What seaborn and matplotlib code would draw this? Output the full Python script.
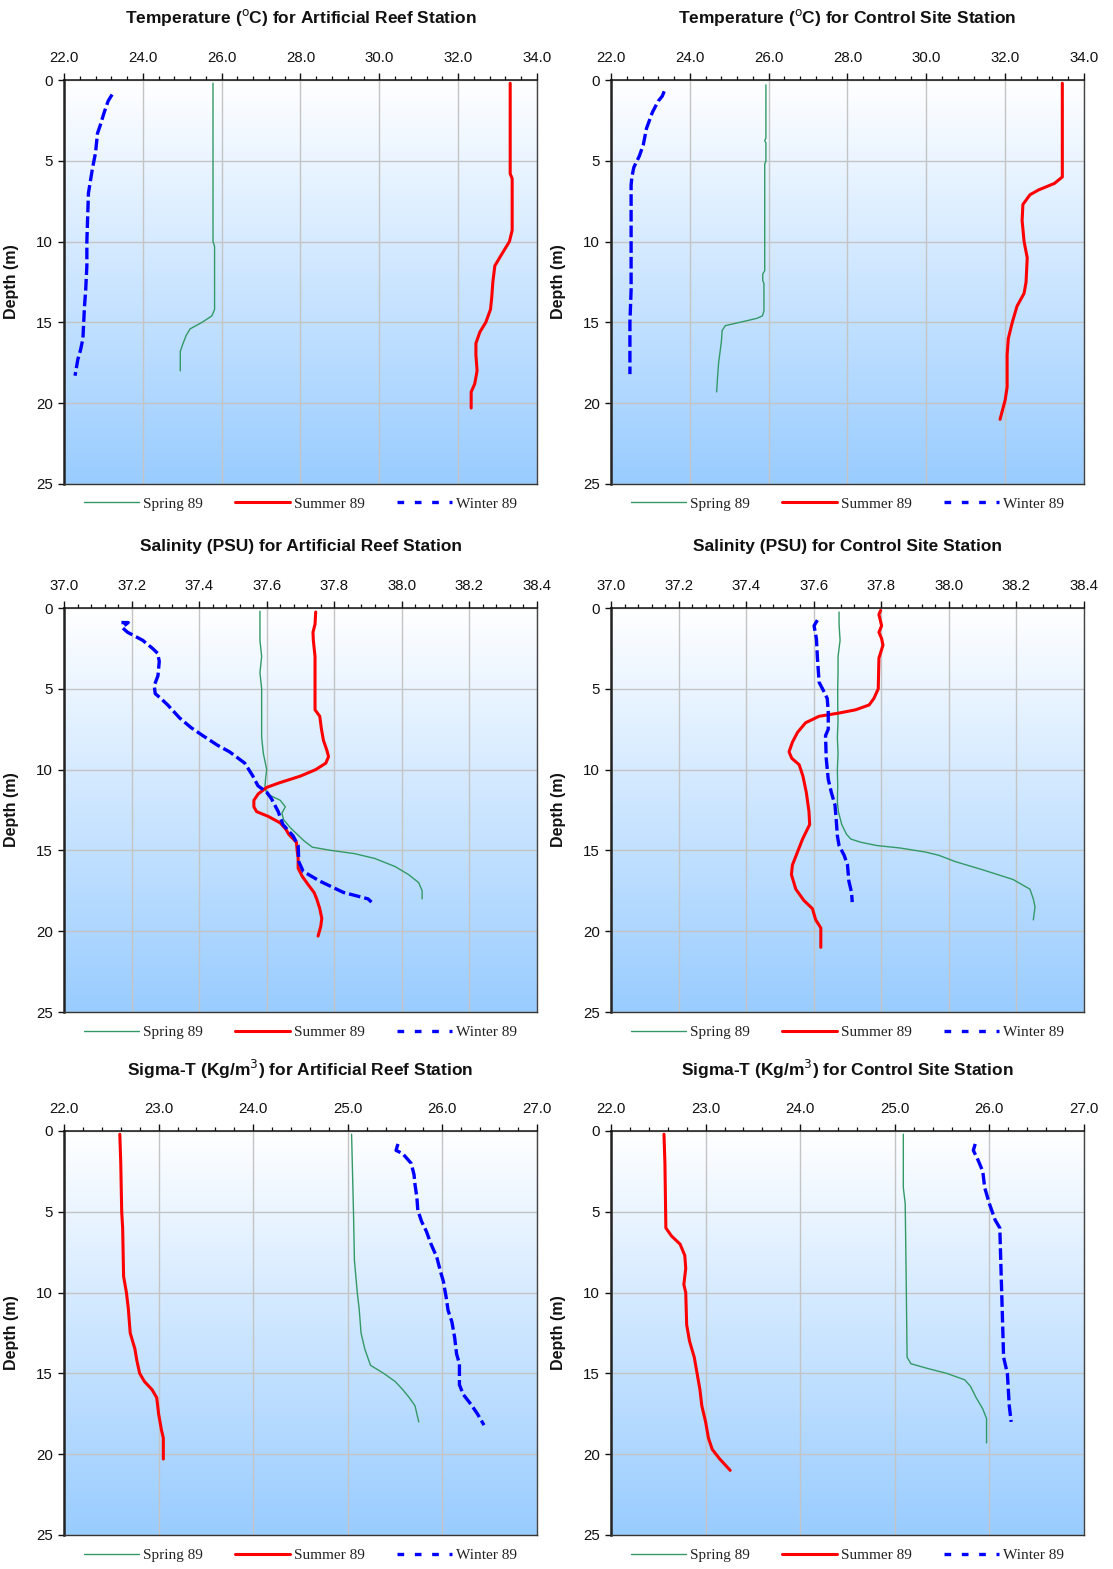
import numpy as np
import pandas as pd
import matplotlib
matplotlib.use("Agg")
import matplotlib.pyplot as plt
import seaborn as sns
from matplotlib.lines import Line2D
from matplotlib.colors import LinearSegmentedColormap
from matplotlib.ticker import MultipleLocator, AutoMinorLocator, FormatStrFormatter

sns.set_theme(style="ticks")
plt.rcParams['font.family'] = ['Liberation Sans', 'DejaVu Sans']

# ---------------- DATA ----------------
# Temperature, Artificial Reef
temp_ar_spring_d = [0.2, 2.5, 10.0, 10.3, 14.2, 14.6, 15.0, 15.4, 15.8, 16.3, 16.8, 18.0]
temp_ar_spring = [25.78, 25.78, 25.78, 25.82, 25.82, 25.75, 25.5, 25.2, 25.1, 25.02, 24.95, 24.95]
temp_ar_summer_d = [0.2, 3.0, 5.8, 6.1, 9.3, 10.0, 10.8, 11.5, 12.5, 13.5, 14.2, 15.0, 15.6, 16.3, 17.0, 18.0, 18.8, 19.3, 20.3]
temp_ar_summer = [33.32, 33.32, 33.32, 33.37, 33.37, 33.3, 33.1, 32.93, 32.88, 32.85, 32.82, 32.7, 32.55, 32.45, 32.45, 32.48, 32.42, 32.33, 32.33]
temp_ar_winter_d = [0.9, 1.3, 2.0, 2.8, 3.3, 4.5, 5.5, 7.0, 8.5, 10.0, 11.5, 13.0, 14.0, 15.0, 16.0, 16.7, 17.3, 18.3]
temp_ar_winter = [23.22, 23.12, 23.02, 22.92, 22.85, 22.8, 22.72, 22.62, 22.6, 22.58, 22.58, 22.55, 22.52, 22.5, 22.48, 22.42, 22.35, 22.28]

# Temperature, Control Site
temp_cs_spring_d = [0.3, 3.6, 3.75, 3.9, 5.0, 5.2, 11.8, 12.0, 12.4, 12.6, 14.3, 14.6, 14.75, 14.9, 15.2, 15.5, 16.2, 17.5, 18.5, 19.3]
temp_cs_spring = [25.93, 25.93, 25.9, 25.93, 25.93, 25.9, 25.9, 25.85, 25.85, 25.88, 25.88, 25.84, 25.7, 25.44, 24.9, 24.82, 24.8, 24.73, 24.7, 24.68]
temp_cs_summer_d = [0.2, 3.0, 6.0, 6.4, 6.8, 7.1, 7.7, 8.7, 10.0, 11.0, 12.5, 13.2, 14.0, 15.0, 16.0, 17.0, 18.0, 19.0, 19.8, 21.0]
temp_cs_summer = [33.45, 33.45, 33.45, 33.25, 32.85, 32.63, 32.45, 32.43, 32.48, 32.56, 32.53, 32.48, 32.3, 32.18, 32.08, 32.05, 32.05, 32.05, 32.0, 31.87]
temp_cs_winter_d = [0.7, 1.0, 1.3, 2.0, 3.0, 4.0, 4.7, 5.4, 6.0, 6.5, 10.0, 13.0, 15.0, 18.2]
temp_cs_winter = [23.35, 23.3, 23.2, 23.05, 22.9, 22.82, 22.72, 22.58, 22.53, 22.51, 22.51, 22.51, 22.48, 22.48]

# Salinity, Artificial Reef
sal_ar_spring_d = [0.2, 1.0, 2.0, 3.0, 4.0, 5.0, 6.0, 7.0, 8.0, 9.0, 9.5, 10.0, 10.5, 11.0, 11.5, 11.9, 12.3, 12.7, 13.1, 13.6, 14.0, 14.4, 14.8, 15.0, 15.2, 15.5, 16.0, 16.5, 17.0, 17.5, 18.0]
sal_ar_spring = [37.58, 37.58, 37.58, 37.585, 37.58, 37.585, 37.585, 37.585, 37.585, 37.59, 37.595, 37.6, 37.597, 37.595, 37.6, 37.64, 37.655, 37.645, 37.65, 37.67, 37.69, 37.71, 37.735, 37.79, 37.86, 37.92, 37.98, 38.02, 38.05, 38.06, 38.06]
sal_ar_summer_d = [0.25, 1.0, 1.5, 2.0, 3.0, 4.5, 6.3, 6.7, 7.5, 8.2, 8.8, 9.2, 9.6, 10.0, 10.4, 10.8, 11.1, 11.5, 11.9, 12.3, 12.6, 12.9, 13.3, 13.7, 14.0, 14.5, 15.0, 15.5, 16.1, 16.6, 17.1, 17.6, 18.0, 18.6, 19.2, 19.7, 20.3]
sal_ar_summer = [37.745, 37.743, 37.737, 37.738, 37.743, 37.743, 37.743, 37.757, 37.762, 37.768, 37.778, 37.783, 37.775, 37.745, 37.70, 37.64, 37.6, 37.575, 37.562, 37.562, 37.57, 37.605, 37.64, 37.657, 37.665, 37.688, 37.69, 37.693, 37.693, 37.705, 37.722, 37.74, 37.748, 37.757, 37.763, 37.76, 37.752]
sal_ar_winter_d = [0.9, 0.9, 1.2, 1.5, 2.0, 2.5, 2.8, 3.3, 4.2, 4.8, 5.3, 5.6, 6.0, 6.8, 7.4, 7.9, 8.5, 8.9, 9.6, 10.4, 11.0, 11.4, 11.8, 12.6, 13.4, 14.1, 14.7, 15.7, 16.3, 16.9, 17.6, 18.0, 18.2]
sal_ar_winter = [37.17, 37.19, 37.172, 37.188, 37.233, 37.262, 37.277, 37.282, 37.278, 37.267, 37.27, 37.287, 37.307, 37.342, 37.376, 37.411, 37.455, 37.49, 37.535, 37.559, 37.574, 37.6, 37.614, 37.634, 37.648, 37.678, 37.693, 37.695, 37.708, 37.757, 37.827, 37.9, 37.91]

# Salinity, Control Site
sal_cs_spring_d = [0.25, 1, 2, 3, 4, 5, 6, 7, 8, 9, 10, 11, 12, 12.6, 13.4, 14.0, 14.3, 14.5, 14.7, 14.85, 15.1, 15.3, 15.7, 16.2, 16.8, 17.4, 18.0, 18.5, 19.3]
sal_cs_spring = [37.675, 37.675, 37.678, 37.672, 37.672, 37.671, 37.671, 37.672, 37.67, 37.672, 37.67, 37.671, 37.67, 37.673, 37.683, 37.697, 37.71, 37.74, 37.787, 37.855, 37.93, 37.97, 38.02, 38.1, 38.19, 38.24, 38.25, 38.255, 38.25]
sal_cs_summer_d = [0.15, 0.4, 1.1, 1.5, 1.9, 2.3, 3.1, 5.0, 5.6, 6.0, 6.3, 6.5, 6.7, 7.1, 7.7, 8.3, 8.9, 9.3, 9.7, 10.4, 11.4, 12.6, 13.4, 14.3, 15.1, 15.9, 16.5, 17.4, 18.1, 18.6, 19.3, 19.8, 21.0]
sal_cs_summer = [37.798, 37.793, 37.801, 37.793, 37.801, 37.805, 37.793, 37.791, 37.778, 37.764, 37.724, 37.675, 37.616, 37.576, 37.552, 37.537, 37.527, 37.535, 37.557, 37.568, 37.578, 37.586, 37.588, 37.567, 37.552, 37.537, 37.534, 37.547, 37.571, 37.596, 37.606, 37.621, 37.621]
sal_cs_winter_d = [0.75, 1.1, 1.9, 3.1, 4.6, 5.2, 5.6, 6.4, 7.5, 7.9, 9.3, 10.6, 11.4, 12.2, 13.2, 14.1, 14.7, 15.3, 15.9, 16.9, 17.6, 18.2]
sal_cs_winter = [37.611, 37.601, 37.608, 37.611, 37.616, 37.631, 37.64, 37.643, 37.643, 37.635, 37.637, 37.643, 37.652, 37.663, 37.667, 37.67, 37.675, 37.69, 37.7, 37.704, 37.712, 37.714]

# Sigma-T, Artificial Reef
sig_ar_spring_d = [0.2, 5, 8, 10, 11, 12.5, 13.5, 14.5, 15.0, 15.5, 16.0, 16.5, 17.0, 18.0]
sig_ar_spring = [25.04, 25.06, 25.07, 25.1, 25.12, 25.14, 25.18, 25.24, 25.38, 25.5, 25.58, 25.65, 25.71, 25.75]
sig_ar_summer_d = [0.2, 2, 5, 6, 9, 10, 11, 12.5, 13.5, 14.2, 15.0, 15.5, 16.0, 16.5, 17.5, 18.5, 19.0, 20.3]
sig_ar_summer = [22.59, 22.6, 22.61, 22.62, 22.63, 22.66, 22.68, 22.7, 22.75, 22.77, 22.8, 22.85, 22.93, 22.98, 23.0, 23.03, 23.05, 23.05]
sig_ar_winter_d = [0.8, 1.2, 1.4, 2.0, 2.7, 3.3, 4.1, 4.9, 5.6, 6.2, 7.0, 7.8, 8.7, 9.3, 10.3, 11.1, 11.8, 12.8, 13.8, 14.4, 15.7, 16.3, 16.9, 17.5, 18.2]
sig_ar_winter = [25.53, 25.51, 25.58, 25.67, 25.70, 25.71, 25.73, 25.74, 25.78, 25.83, 25.88, 25.94, 25.98, 26.01, 26.04, 26.06, 26.1, 26.13, 26.15, 26.18, 26.18, 26.22, 26.3, 26.37, 26.44]

# Sigma-T, Control Site
sig_cs_spring_d = [0.2, 3.5, 4.5, 9, 14.0, 14.4, 14.7, 15.0, 15.4, 15.8, 16.5, 17.2, 17.8, 19.3]
sig_cs_spring = [25.09, 25.09, 25.11, 25.12, 25.13, 25.17, 25.35, 25.55, 25.74, 25.8, 25.86, 25.93, 25.97, 25.97]
sig_cs_summer_d = [0.2, 2, 6, 6.5, 7, 7.7, 8.5, 9.5, 10, 12, 13, 14, 15, 16, 17, 18, 19, 19.7, 20.3, 21]
sig_cs_summer = [22.56, 22.57, 22.58, 22.64, 22.73, 22.78, 22.79, 22.77, 22.79, 22.8, 22.83, 22.88, 22.91, 22.94, 22.96, 23.0, 23.03, 23.07, 23.15, 23.26]
sig_cs_winter_d = [0.8, 1.2, 1.8, 2.5, 3.5, 4.5, 5.5, 6.0, 8.0, 10.0, 12.0, 14.0, 15.0, 16.0, 17.0, 18.0]
sig_cs_winter = [25.85, 25.83, 25.88, 25.93, 25.95, 26.0, 26.06, 26.11, 26.12, 26.13, 26.14, 26.15, 26.19, 26.2, 26.21, 26.23]

titles = [
    r"Temperature ($^{\rm o}$C) for Artificial Reef Station",
    r"Temperature ($^{\rm o}$C) for Control Site Station",
    "Salinity (PSU) for Artificial Reef Station",
    "Salinity (PSU) for Control Site Station",
    r"Sigma-T (Kg/m$^{\rm 3}$) for Artificial Reef Station",
    r"Sigma-T (Kg/m$^{\rm 3}$) for Control Site Station",
]
season_labels = ["Spring 89", "Summer 89", "Winter 89"]
x_ranges = [(22.0, 34.0), (37.0, 38.4), (22.0, 27.0)]
x_steps = [2.0, 0.2, 1.0]

panels = [
    [(temp_ar_spring_d, temp_ar_spring), (temp_ar_summer_d, temp_ar_summer), (temp_ar_winter_d, temp_ar_winter)],
    [(temp_cs_spring_d, temp_cs_spring), (temp_cs_summer_d, temp_cs_summer), (temp_cs_winter_d, temp_cs_winter)],
    [(sal_ar_spring_d, sal_ar_spring), (sal_ar_summer_d, sal_ar_summer), (sal_ar_winter_d, sal_ar_winter)],
    [(sal_cs_spring_d, sal_cs_spring), (sal_cs_summer_d, sal_cs_summer), (sal_cs_winter_d, sal_cs_winter)],
    [(sig_ar_spring_d, sig_ar_spring), (sig_ar_summer_d, sig_ar_summer), (sig_ar_winter_d, sig_ar_winter)],
    [(sig_cs_spring_d, sig_cs_spring), (sig_cs_summer_d, sig_cs_summer), (sig_cs_winter_d, sig_cs_winter)],
]

# ---------------- STYLE ----------------
colors = ["#339966", "#ff0000", "#0000ff"]
widths = [1.0, 2.2, 2.4]
styles = ["-", "-", (0, (3.5, 1.2))]

W, H = 1113, 1569
fig = plt.figure(figsize=(W / 100, H / 100), dpi=100)
fig.patch.set_facecolor("white")

ax_left = [64, 611]
ax_top = [80, 608, 1131]
ax_w, ax_h = 473, 404

bg_cmap = LinearSegmentedColormap.from_list("bg", ["#ffffff", "#99ccff"])
grad = np.linspace(0, 1, 256).reshape(-1, 1)

for i, panel in enumerate(panels):
    r, c = divmod(i, 2)
    x0, y0 = ax_left[c], ax_top[r]
    ax = fig.add_axes([x0 / W, 1 - (y0 + ax_h) / H, ax_w / W, ax_h / H])
    xmin, xmax = x_ranges[r]

    ax.imshow(grad, cmap=bg_cmap, extent=[xmin, xmax, 25, 0], aspect="auto",
              zorder=0, interpolation="bilinear")

    for k, (dep, val) in enumerate(panel):
        df = pd.DataFrame({"value": val, "depth": dep})
        sns.lineplot(data=df, x="value", y="depth", sort=False, estimator=None,
                     color=colors[k], linewidth=widths[k], linestyle=styles[k],
                     ax=ax, legend=False, zorder=3)

    ax.set_xlim(xmin, xmax)
    ax.set_ylim(25, 0)
    ax.xaxis.tick_top()
    ax.xaxis.set_major_locator(MultipleLocator(x_steps[r]))
    ax.xaxis.set_minor_locator(AutoMinorLocator(5))
    ax.xaxis.set_major_formatter(FormatStrFormatter("%.1f"))
    ax.set_yticks([0, 5, 10, 15, 20, 25])
    ax.tick_params(axis="x", which="major", top=True, bottom=False, direction="out",
                   length=5, width=1, labelsize=10.8, colors="#111111", pad=6)
    ax.tick_params(axis="x", which="minor", top=True, bottom=False, direction="out",
                   length=3, width=0.9, colors="#111111")
    ax.tick_params(axis="y", which="major", left=True, direction="out", length=4,
                   width=1, labelsize=10.8, colors="#111111", pad=4)
    ax.set_xlabel("")
    ax.set_ylabel("Depth (m)", fontsize=11.5, fontweight="bold", color="#111111")
    ax.yaxis.set_label_coords(-45 / ax_w, 0.5)

    ax.grid(True, which="major", axis="both", color="#c4c4c4", linewidth=1.0)
    ax.set_axisbelow(True)

    ax.spines["left"].set_linewidth(1.8)
    ax.spines["left"].set_color("#222222")
    ax.spines["top"].set_linewidth(1.1)
    ax.spines["top"].set_color("#111111")
    ax.spines["right"].set_linewidth(1.0)
    ax.spines["right"].set_color("#444444")
    ax.spines["bottom"].set_linewidth(1.0)
    ax.spines["bottom"].set_color("#333333")
    for s in ax.spines.values():
        s.set_visible(True)
        s.set_zorder(5)

    ax.text(0.5, 1 + 62 / ax_h, titles[i], transform=ax.transAxes, ha="center",
            va="center", fontsize=12.5, fontweight="bold", color="#111111")

    handles = [
        Line2D([], [], color=colors[0], linewidth=1.0),
        Line2D([], [], color=colors[1], linewidth=2.2),
        Line2D([], [], color=colors[2], linewidth=2.4, linestyle=(0, (2.0, 3.2))),
    ]
    ax.legend(handles=handles, labels=season_labels, loc="center",
              bbox_to_anchor=(0.5, -20 / ax_h), ncol=3, frameon=False,
              prop={"family": "Liberation Serif", "size": 11},
              handlelength=3.6, handletextpad=0.25, columnspacing=2.1,
              labelcolor="#222222")

fig.savefig("out.png", dpi=100, facecolor="white")
